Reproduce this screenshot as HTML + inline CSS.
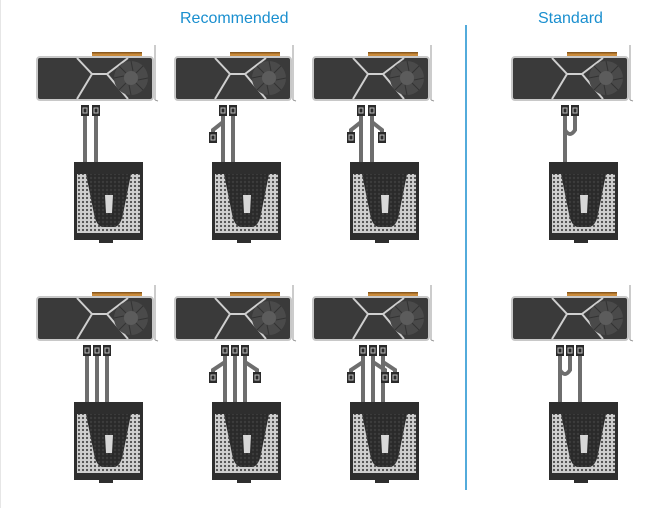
<!DOCTYPE html>
<html><head><meta charset="utf-8"><style>
html,body{margin:0;padding:0;background:#fff;}
body{width:658px;height:508px;overflow:hidden;position:relative;font-family:"Liberation Sans",sans-serif;}
.t{position:absolute;color:#1a8fcf;font-size:16px;top:10px;}
</style></head><body>
<div class="t" style="left:180px">Recommended</div>
<div class="t" style="left:538px">Standard</div>
<svg width="658" height="508" style="position:absolute;left:0;top:0">
<defs>
<pattern id="mL" width="4" height="4" patternUnits="userSpaceOnUse"><rect width="4" height="4" fill="#cfcfcf"/><circle cx="2" cy="2" r="1.1" fill="#4a4a4a"/></pattern>
<pattern id="mD" width="4" height="4" patternUnits="userSpaceOnUse"><rect width="4" height="4" fill="#2a2a2a"/><circle cx="2" cy="2" r="1.2" fill="#3c3c3c"/></pattern>
<g id="gpu">
<rect x="55" y="52" width="50" height="5" fill="#c98a3a"/>
<rect x="55" y="52" width="50" height="1.5" fill="#8a5a20"/>
<line x1="118" y1="45" x2="118" y2="100" stroke="#999" stroke-width="1"/>
<line x1="118" y1="100" x2="121" y2="101" stroke="#999" stroke-width="1"/>
<rect x="0" y="57" width="116" height="43" rx="3" fill="#3a3a3a" stroke="#c8c8c8" stroke-width="2"/>
<path d="M40 58 L55 74 L40 99 M91 58 L70 74 L91 99 M55 74 L70 74" stroke="#cfcfcf" stroke-width="2" fill="none"/>
<circle cx="94" cy="78" r="17" fill="#4a4a4a"/>
<circle cx="94" cy="78" r="7" fill="#5c5c5c"/>
<path d="M94 61 L96 71 M111 78 L101 80 M94 95 L92 85 M77 78 L87 76 M106 66 L99 73 M82 90 L89 83 M106 90 L99 83 M82 66 L89 73" stroke="#333" stroke-width="1"/>
</g>
<g id="psu">
<rect x="37" y="162" width="69" height="78" fill="#2e2e2e"/>
<rect x="40" y="174" width="63" height="59" fill="url(#mL)"/>
<path d="M49 174 L94 174 L86 214 Q84 225 78 227 L65 227 Q59 225 57 214 Z" fill="url(#mD)"/>
<path d="M68 195 L76 195 L75 213 L69 213 Z" fill="#d8d8d8"/>
<rect x="62" y="240" width="14" height="3" fill="#2e2e2e"/>
</g>
<g id="con"><rect x="-4" y="0" width="8" height="11" fill="#2a2a2a"/><rect x="-2" y="3" width="4" height="5" fill="none" stroke="#bbb" stroke-width="1"/></g>
</defs>
<line x1="0" y1="0" x2="0" y2="508" stroke="#ccc"/>
<line x1="466" y1="25" x2="466" y2="490" stroke="#1a8fcf" stroke-width="1.5"/>
<g stroke="#6e6e6e" stroke-width="4" fill="none" stroke-linecap="butt">
<g transform="translate(37,0)"><path d="M48 115 V163 M59 115 V163"/></g>
<g transform="translate(175,0)"><path d="M48 115 V163 M58 115 V163 M48 122 L38 130 V134"/></g>
<g transform="translate(313,0)"><path d="M48 115 V163 M59 115 V163 M48 122 L38 130 V134 M59 122 L69 130 V134"/></g>
<g transform="translate(512,0)"><path d="M53 115 V130 Q58 138 63 130 V115 M53 130 V163"/></g>
<g transform="translate(37,240)"><path d="M50 115 V163 M60 115 V163 M70 115 V163"/></g>
<g transform="translate(175,240)"><path d="M50 115 V163 M60 115 V163 M70 115 V163 M50 122 L38 130 V134 M70 122 L82 130 V134"/></g>
<g transform="translate(313,240)"><path d="M50 115 V163 M60 115 V163 M70 115 V163 M50 122 L38 130 V134 M60 122 L72 130 V134 M70 122 L82 130 V134"/></g>
<g transform="translate(512,240)"><path d="M48 115 V163 M68 115 V163 M58 115 V130 Q53 138 48 130"/></g>
</g>
<g transform="translate(37,0)"><use href="#gpu"/><use href="#psu"/><use href="#con" x="48" y="105"/><use href="#con" x="59" y="105"/></g>
<g transform="translate(175,0)"><use href="#gpu"/><use href="#psu"/><use href="#con" x="48" y="105"/><use href="#con" x="58" y="105"/><use href="#con" x="38" y="132"/></g>
<g transform="translate(313,0)"><use href="#gpu"/><use href="#psu"/><use href="#con" x="48" y="105"/><use href="#con" x="59" y="105"/><use href="#con" x="38" y="132"/><use href="#con" x="69" y="132"/></g>
<g transform="translate(512,0)"><use href="#gpu"/><use href="#psu"/><use href="#con" x="53" y="105"/><use href="#con" x="63" y="105"/></g>
<g transform="translate(37,240)"><use href="#gpu"/><use href="#psu"/><use href="#con" x="50" y="105"/><use href="#con" x="60" y="105"/><use href="#con" x="70" y="105"/></g>
<g transform="translate(175,240)"><use href="#gpu"/><use href="#psu"/><use href="#con" x="50" y="105"/><use href="#con" x="60" y="105"/><use href="#con" x="70" y="105"/><use href="#con" x="38" y="132"/><use href="#con" x="82" y="132"/></g>
<g transform="translate(313,240)"><use href="#gpu"/><use href="#psu"/><use href="#con" x="50" y="105"/><use href="#con" x="60" y="105"/><use href="#con" x="70" y="105"/><use href="#con" x="38" y="132"/><use href="#con" x="72" y="132"/><use href="#con" x="82" y="132"/></g>
<g transform="translate(512,240)"><use href="#gpu"/><use href="#psu"/><use href="#con" x="48" y="105"/><use href="#con" x="58" y="105"/><use href="#con" x="68" y="105"/></g>
</svg>
</body></html>
